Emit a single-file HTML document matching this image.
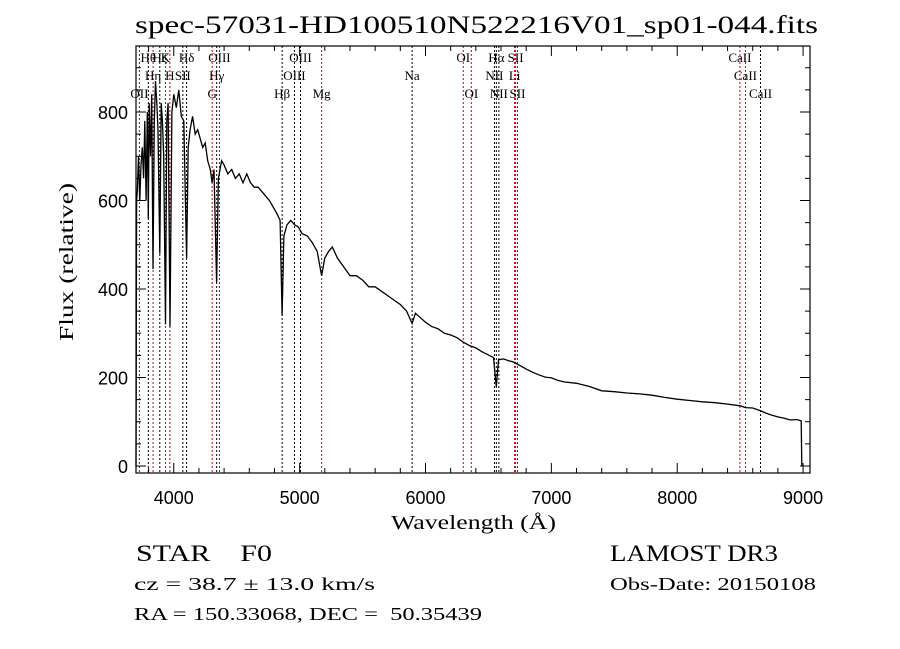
<!DOCTYPE html>
<html><head><meta charset="utf-8"><style>
body{margin:0;background:#fff;width:900px;height:649px;overflow:hidden}
svg{display:block}
</style></head><body>
<svg id="chart" width="900" height="649" viewBox="0 0 900 649" xmlns="http://www.w3.org/2000/svg">
<rect width="900" height="649" fill="#fff"/>
<text x="135" y="33" textLength="683" lengthAdjust="spacingAndGlyphs" font-family="Liberation Serif, serif" font-size="25">spec-57031-HD100510N522216V01_sp01-044.fits</text>
<g id="lines"></g>
<g id="ticks"></g>
<path id="spec" fill="none" stroke="#000" stroke-width="1.3"/>
<rect x="136" y="46" width="674" height="427" fill="none" stroke="#000" stroke-width="1.2"/>
<text x="391" y="529" textLength="165" lengthAdjust="spacingAndGlyphs" font-family="Liberation Serif, serif" font-size="20">Wavelength (Å)</text>
<text transform="translate(73,341) rotate(-90)" textLength="158" lengthAdjust="spacingAndGlyphs" font-family="Liberation Serif, serif" font-size="20">Flux (relative)</text>
<text x="136" y="561" textLength="136" lengthAdjust="spacingAndGlyphs" font-family="Liberation Serif, serif" font-size="23" xml:space="preserve">STAR    F0</text>
<text x="134" y="590" textLength="241" lengthAdjust="spacingAndGlyphs" font-family="Liberation Serif, serif" font-size="18">cz = 38.7 ± 13.0 km/s</text>
<text x="134" y="620" textLength="348" lengthAdjust="spacingAndGlyphs" font-family="Liberation Serif, serif" font-size="18" xml:space="preserve">RA = 150.33068, DEC =  50.35439</text>
<text x="610" y="561" textLength="168" lengthAdjust="spacingAndGlyphs" font-family="Liberation Serif, serif" font-size="23">LAMOST DR3</text>
<text x="610" y="590" textLength="206" lengthAdjust="spacingAndGlyphs" font-family="Liberation Serif, serif" font-size="18">Obs-Date: 20150108</text>
</svg>
<script>
const wave=[3700,3702,3705,3710,3720,3730,3740,3750,3760,3770,3780,3790,3798,3805,3815,3825,3835,3845,3855,3865,3875,3889,3900,3910,3920,3934,3945,3955,3970,3985,4000,4020,4040,4060,4080,4102,4115,4130,4150,4170,4190,4210,4230,4250,4270,4290,4305,4320,4340,4355,4380,4400,4430,4460,4490,4520,4550,4580,4610,4640,4670,4700,4730,4760,4790,4820,4845,4861,4875,4900,4930,4960,4990,5020,5060,5100,5140,5175,5200,5230,5260,5300,5350,5400,5450,5500,5550,5600,5650,5700,5750,5800,5850,5894,5920,5960,6000,6050,6100,6150,6200,6250,6300,6350,6400,6450,6500,6540,6563,6580,6620,6660,6700,6750,6800,6850,6900,6950,7000,7050,7100,7200,7300,7400,7500,7600,7700,7800,7900,8000,8100,8200,8300,8400,8500,8542,8600,8662,8700,8750,8800,8850,8900,8950,8985,8990];
const flux=[0,280,600,620,700,600,680,720,650,780,600,800,560,820,700,840,445,780,870,820,760,480,820,780,700,320,780,820,315,800,840,810,850,790,780,470,720,760,790,750,760,740,720,730,690,670,640,670,415,650,690,680,660,670,650,660,640,660,640,630,630,620,610,600,585,570,555,340,520,545,555,545,540,525,520,505,485,430,470,485,495,470,450,430,430,420,405,405,395,385,375,365,350,322,345,335,325,315,310,300,296,290,280,272,267,258,251,245,179,240,242,238,235,227,219,212,206,201,199,194,190,187,180,170,168,165,163,160,155,151,148,145,143,140,136,132,131,125,120,115,111,108,104,105,102,0];
const lineWaves=[3727,3798,3836,3889,3934,3969,4072,4102,4305,4341,4363,4861,4959,5007,5175,5894,6300,6364,6548,6563,6583,6708,6716,6731,8498,8542,8662];
const lineNames=["OII","Hθ","Hη","Hζ","K","H","SII","Hδ","G","Hγ","OIII","Hβ","OIII","OIII","Mg","Na","OI","OI","NII","Hα","NII","Li","SII","SII","CaII","CaII","CaII"];
const lineRows=[2,0,1,0,0,1,1,0,2,1,0,2,1,0,2,1,0,2,1,0,2,1,0,2,0,1,2];
const lineRed=[1,0,1,0,1,1,0,0,1,0,1,0,0,0,1,0,1,1,0,0,0,1,1,1,1,1,0];
const xTicks=[4000,5000,6000,7000,8000,9000];
const yTicks=[0,200,400,600,800];
const X0=136,X1=810,Y0=473,Y1=46;
const xs=w=>X0+(w-3700)*(X1-X0)/(9055-3700);
const ys=f=>466-f*0.4425;
const NS="http://www.w3.org/2000/svg";
function mk(tag,attrs,parent){const e=document.createElementNS(NS,tag);for(const k in attrs)e.setAttribute(k,attrs[k]);parent.appendChild(e);return e;}
let d="";wave.forEach((w,i)=>{d+=(i?"L":"M")+xs(w).toFixed(1)+","+ys(Math.max(flux[i],-15)).toFixed(1);});
document.getElementById('spec').setAttribute('d',d);
const lg=document.getElementById('lines');
lineWaves.forEach((w,i)=>{
 const x=xs(w);
 const l=mk('line',{x1:x,x2:x,y1:Y1,y2:Y0,stroke:lineRed[i]?'#c00':'#000','stroke-width':1,'stroke-dasharray':'2,2'},lg);
 
 
 const t=mk('text',{x:x,y:62+lineRows[i]*18,'text-anchor':'middle','font-family':'Liberation Serif, serif','font-size':13},lg);
 t.textContent=lineNames[i];
 
 
});
const tg=document.getElementById('ticks');
for(let w=3800;w<=9000;w+=200){const x=xs(w);const L=(w%1000===0)?10:5;
 mk('line',{x1:x,x2:x,y1:Y0,y2:Y0-L,stroke:'#000'},tg);mk('line',{x1:x,x2:x,y1:Y1,y2:Y1+L,stroke:'#000'},tg);}
xTicks.forEach(w=>{const t=mk('text',{x:xs(w),y:504,'text-anchor':'middle','font-family':'Liberation Sans, sans-serif','font-size':18},tg);t.textContent=w;
 
 });
for(let f=0;f<=940;f+=50){const y=ys(f);if(y<Y1)break;const L=(f%200===0)?10:5;
 mk('line',{x1:X0,x2:X0+L,y1:y,y2:y,stroke:'#000'},tg);mk('line',{x1:X1,x2:X1-L,y1:y,y2:y,stroke:'#000'},tg);}
yTicks.forEach(f=>{const t=mk('text',{x:128,y:ys(f)+7,'text-anchor':'end','font-family':'Liberation Sans, sans-serif','font-size':18},tg);t.textContent=f;
 
 });
</script>
</body></html>
